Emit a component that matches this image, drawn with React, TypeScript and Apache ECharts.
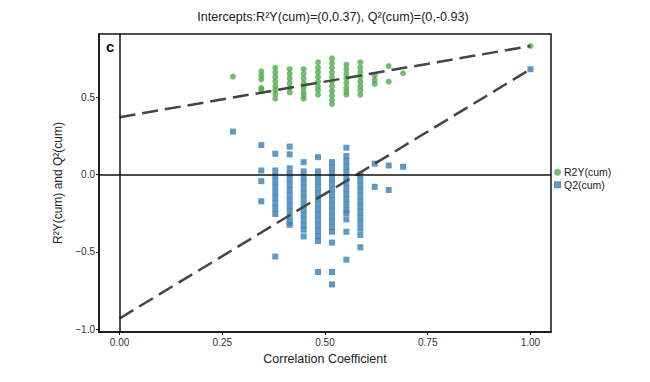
import React, { useEffect, useRef } from "react";
import * as echarts from "echarts";

// Correlation coefficient columns (x positions of permutation results)
const corrX = [0.276, 0.345, 0.379, 0.414, 0.448, 0.483, 0.517, 0.552, 0.586, 0.621, 0.655, 0.69, 1.0];

// R2Y(cum) values per column
const r2yValues: number[][] = [
  [0.632],
  [0.667, 0.64, 0.615, 0.56, 0.547],
  [0.69, 0.66, 0.63, 0.6, 0.57, 0.545, 0.52, 0.49],
  [0.68, 0.65, 0.62, 0.59, 0.56, 0.53],
  [0.68, 0.65, 0.62, 0.59, 0.56, 0.53, 0.51, 0.49],
  [0.725, 0.69, 0.66, 0.63, 0.6, 0.57, 0.545, 0.515],
  [0.75, 0.72, 0.69, 0.66, 0.63, 0.6, 0.57, 0.54, 0.51, 0.48, 0.455],
  [0.71, 0.68, 0.65, 0.62, 0.59, 0.56, 0.535, 0.515],
  [0.725, 0.69, 0.66, 0.63, 0.6, 0.57, 0.545, 0.515],
  [0.64, 0.61, 0.585],
  [0.7, 0.6],
  [0.654],
  [0.83],
];

// Q2(cum) values per column
const q2Values: number[][] = [
  [0.277],
  [0.19, 0.026, -0.043, -0.173],
  [0.134, 0.026, -0.01, -0.045, -0.08, -0.115, -0.15, -0.185, -0.22, -0.255, -0.53],
  [0.18, 0.13, 0.04, 0.005, -0.03, -0.065, -0.1, -0.135, -0.17, -0.205, -0.24, -0.275, -0.31, -0.325],
  [0.08, 0.02, -0.015, -0.05, -0.085, -0.12, -0.155, -0.19, -0.225, -0.26, -0.295, -0.33, -0.357, -0.4],
  [0.112, 0.02, -0.015, -0.05, -0.085, -0.12, -0.155, -0.19, -0.225, -0.26, -0.295, -0.33, -0.365, -0.4, -0.43, -0.63],
  [0.08, 0.045, 0.01, -0.025, -0.06, -0.095, -0.13, -0.165, -0.2, -0.235, -0.27, -0.305, -0.34, -0.37, -0.44, -0.63, -0.71],
  [0.173, 0.119, 0.085, 0.05, 0.015, -0.02, -0.055, -0.09, -0.125, -0.16, -0.195, -0.23, -0.25, -0.29, -0.37, -0.55],
  [0.0, -0.035, -0.07, -0.105, -0.14, -0.175, -0.21, -0.245, -0.28, -0.315, -0.35, -0.39, -0.47],
  [0.07, -0.08],
  [0.058, -0.1],
  [0.05],
  [0.68],
];

// Regression lines: [x, y] endpoints (intercept at x = 0, original model at x = 1)
const r2yLine = [[0, 0.37], [1, 0.83]];
const q2Line = [[0, -0.93], [1, 0.68]];

const xTicks = [0, 0.25, 0.5, 0.75, 1];
const yTicks = [-1, -0.5, 0, 0.5];

const GREEN = "#4DAF4A";
const BLUE = "#377EB8";
const FONT = "Liberation Sans, Arial, sans-serif";

function toPoints(xs: number[], ys: number[][]): number[][] {
  const out: number[][] = [];
  xs.forEach((x, i) => ys[i].forEach((y) => out.push([x, y])));
  return out;
}

export default function App() {
  const ref = useRef<HTMLDivElement>(null);

  useEffect(() => {
    document.body.style.margin = "0";
    if (!ref.current) return;
    const chart = echarts.init(ref.current, null, { renderer: "svg" });
    const fmtMinus = (s: string) => s.replace("-", "\u2212");
    chart.setOption({
      animation: false,
      backgroundColor: "#ffffff",
      textStyle: { fontFamily: FONT },
      grid: {
        left: 99,
        right: 99,
        top: 34,
        bottom: 50,
        show: true,
        borderColor: "#111",
        borderWidth: 1.5,
        containLabel: false,
      },
      graphic: [
        {
          type: "text",
          x: 333,
          y: 10,
          style: {
            text: "Intercepts:R\u00B2Y(cum)=(0,0.37), Q\u00B2(cum)=(0,-0.93)",
            fontSize: 12.6,
            fontFamily: FONT,
            fill: "#222",
            textAlign: "center",
          },
        },
        {
          type: "text",
          x: 106,
          y: 39,
          style: {
            text: "c",
            fontSize: 15,
            fontWeight: "bold",
            fontFamily: FONT,
            fill: "#111",
          },
        },
      ],
      legend: {
        orient: "vertical",
        left: 554,
        top: 166,
        itemWidth: 7,
        itemHeight: 7,
        itemGap: 0,
        padding: 0,
        textStyle: { fontSize: 10.5, lineHeight: 12.5, color: "#222", fontFamily: FONT, padding: [0, 0, 0, -2] },
        data: [
          { name: "R2Y(cum)", icon: "circle" },
          { name: "Q2(cum)", icon: "rect" },
        ],
      },
      xAxis: {
        type: "value",
        min: -0.05,
        max: 1.05,
        name: "Correlation Coefficient",
        nameLocation: "middle",
        nameGap: 20,
        nameTextStyle: { fontSize: 12.5, color: "#222", fontFamily: FONT },
        axisLine: { show: true, onZero: false, lineStyle: { color: "#111", width: 1.5 } },
        axisTick: { show: true, length: 3, customValues: xTicks, lineStyle: { color: "#111" } },
        axisLabel: {
          customValues: xTicks,
          formatter: (v: number) => v.toFixed(2),
          fontSize: 10,
          color: "#333",
          margin: 5,
          fontFamily: FONT,
        },
        splitLine: { show: false },
      },
      yAxis: {
        type: "value",
        min: -1.0175,
        max: 0.9075,
        name: "R\u00B2Y(cum) and Q\u00B2(cum)",
        nameLocation: "middle",
        nameGap: 33,
        nameTextStyle: { fontSize: 12, color: "#222", fontFamily: FONT },
        axisLine: { show: true, onZero: false, lineStyle: { color: "#111", width: 1.5 } },
        axisTick: { show: true, length: 3, customValues: yTicks, lineStyle: { color: "#111" } },
        axisLabel: {
          customValues: yTicks,
          formatter: (v: number) => fmtMinus(v.toFixed(1)),
          fontSize: 10,
          color: "#333",
          margin: 4,
          fontFamily: FONT,
        },
        splitLine: { show: false },
      },
      series: [
        {
          name: "R2Y(cum)",
          type: "scatter",
          symbol: "circle",
          symbolSize: 6,
          itemStyle: { color: GREEN },
          data: toPoints(corrX, r2yValues),
          z: 2,
        },
        {
          name: "Q2(cum)",
          type: "scatter",
          symbol: "rect",
          symbolSize: 6,
          itemStyle: { color: BLUE },
          data: toPoints(corrX, q2Values),
          z: 2,
        },
        {
          name: "r2yLine",
          type: "line",
          data: r2yLine,
          symbol: "none",
          lineStyle: { color: "#444", width: 2.5, type: [16, 7] },
          z: 4,
          silent: true,
          markLine: {
            silent: true,
            symbol: "none",
            label: { show: false },
            lineStyle: { color: "#111", width: 1.5, type: "solid" },
            data: [{ yAxis: 0 }, { xAxis: 0 }],
          },
        },
        {
          name: "q2Line",
          type: "line",
          data: q2Line,
          symbol: "none",
          lineStyle: { color: "#444", width: 2.5, type: [16, 7] },
          z: 4,
          silent: true,
        },
      ],
    });
    return () => chart.dispose();
  }, []);

  return <div ref={ref} style={{ width: 650, height: 382 }} />;
}
